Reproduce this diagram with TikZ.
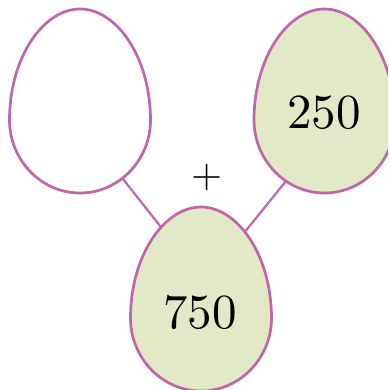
\documentclass[tikz,border=0pt]{standalone}
\usepackage{fontspec}
\newfontfamily\numfont{lmroman10-regular}[Extension=.otf]
\usetikzlibrary{calc}
\definecolor{eggline}{RGB}{192,102,170}
\definecolor{eggfill}{RGB}{225,233,198}
\tikzset{
  eggpath/.style={draw=eggline, line width=2.7pt},
  conn/.style={draw=eggline, line width=2.2pt},
  num/.style={font=\numfont\fontsize{49}{52}\selectfont, inner sep=0pt},
  pics/egg/.style={code={
    \path[eggpath,fill=#1] (-70.5,0) .. controls (-70.5,62) and (-37,111) .. (0,111)
      .. controls (37,111) and (70.5,62) .. (70.5,0)
      .. controls (70.5,-40) and (39,-73) .. (0,-73)
      .. controls (-39,-73) and (-70.5,-40) .. (-70.5,0) -- cycle;
  }}
}
\begin{document}
\begin{tikzpicture}[x=1pt,y=1pt]
\useasboundingbox (0,0) rectangle (388,390);
\clip (0,0) rectangle (388,390);
\fill[white] (0,0) rectangle (388,390);
\coordinate (L) at (80,270);
\coordinate (R) at (324.5,270);
\coordinate (B) at (201,72);
\coordinate (Ls) at (123,211);
\coordinate (Rs) at (286,209);
\coordinate (Bl) at (164,159);
\coordinate (Br) at (244,157);
\draw[conn] (Ls) -- (Bl);
\draw[conn] (Rs) -- (Br);
\pic at (L) {egg=white};
\pic at (R) {egg=eggfill};
\pic at (B) {egg=eggfill};
\node[num] (n250) at (324,277) {250};
\node[num] (n750) at (200,78) {750};
\node[font=\numfont\fontsize{40}{44}\selectfont, inner sep=0pt] (plus) at (207,212) {+};
\end{tikzpicture}
\end{document}
